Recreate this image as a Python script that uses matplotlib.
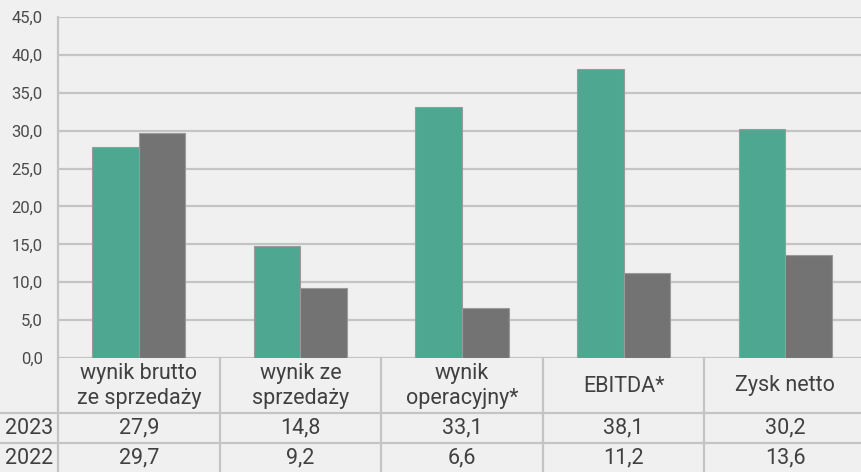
import matplotlib.pyplot as plt
import numpy as np

categories = ["wynik brutto\nze sprzedaży", "wynik ze\nsprzedaży", "wynik\noperacyjny*",
              "EBITDA*", "Zysk netto"]
years = ["2023", "2022"]
values_2023 = [27.9, 14.8, 33.1, 38.1, 30.2]
values_2022 = [29.7, 9.2, 6.6, 11.2, 13.6]
yticks = np.arange(0, 50, 5)

GREEN = "#4ea891"
GRAY = "#737373"
LINE = "#c4c4c4"
TEXT = "#404040"
BG = "#f0f0f0"

plt.rcParams["font.family"] = ["Roboto", "DejaVu Sans"]

W, H = 862, 472
fig = plt.figure(figsize=(W / 100, H / 100), dpi=100, facecolor=BG)

x0, x1 = 58, 866
y_zero, y_top = 358, 17
ax = fig.add_axes([x0 / W, (H - y_zero) / H, (x1 - x0) / W, (y_zero - y_top) / H])
ax.set_facecolor(BG)

x = np.arange(len(categories))
w = 0.288
ax.bar(x - w, values_2023, w, align="edge", color=GREEN, edgecolor="#9a9a9a", linewidth=0.8, zorder=3)
ax.bar(x, values_2022, w, align="edge", color=GRAY, edgecolor="#9a9a9a", linewidth=0.8, zorder=3)

ax.set_xlim(-0.5, len(categories) - 0.5)
ax.set_ylim(0, 45)
ax.set_yticks(yticks)
ax.set_yticklabels([f"{v:.1f}".replace(".", ",") for v in yticks], fontsize=12, color="#4a4a4a")
ax.yaxis.grid(True, color=LINE, linewidth=1.6, zorder=0)
ax.set_xticks([])
ax.tick_params(axis="y", length=0, pad=11)
for s in ["top", "right", "bottom"]:
    ax.spines[s].set_visible(False)
ax.spines["left"].set_color(LINE)
ax.spines["left"].set_linewidth(1.6)
ax.set_axisbelow(True)

# data table below the plot
tab_h = 116
ax_t = fig.add_axes([x0 / W, (H - y_zero - tab_h) / H, (x1 - x0) / W, tab_h / H])
ax_t.set_xlim(-0.5, len(categories) - 0.5)
ax_t.set_ylim(tab_h, 0)
ax_t.axis("off")

col_px = (x1 - x0) / len(categories)
left_edge = -0.5 - x0 / col_px
rows_y = [55, 85]
for yy in rows_y:
    ax_t.plot([left_edge, len(categories) - 0.5], [yy, yy], color=LINE, lw=1.6, clip_on=False)
for b in np.arange(len(categories) + 1) - 0.5:
    ax_t.plot([b, b], [0, tab_h], color=LINE, lw=1.6, clip_on=False)

txt = dict(fontsize=15.5, color=TEXT)
for i, c in enumerate(categories):
    ax_t.text(i, 28, c, ha="center", va="center", linespacing=1.3, **txt)
    ax_t.text(i, 70, f"{values_2023[i]:.1f}".replace(".", ","), ha="center", va="center", **txt)
    ax_t.text(i, 100, f"{values_2022[i]:.1f}".replace(".", ","), ha="center", va="center", **txt)

for yy, lab in zip([70, 100], years):
    ax_t.text(-0.5 - 5 / col_px, yy, lab, ha="right", va="center", clip_on=False, **txt)

fig.savefig("out.png", dpi=100, facecolor=BG)
